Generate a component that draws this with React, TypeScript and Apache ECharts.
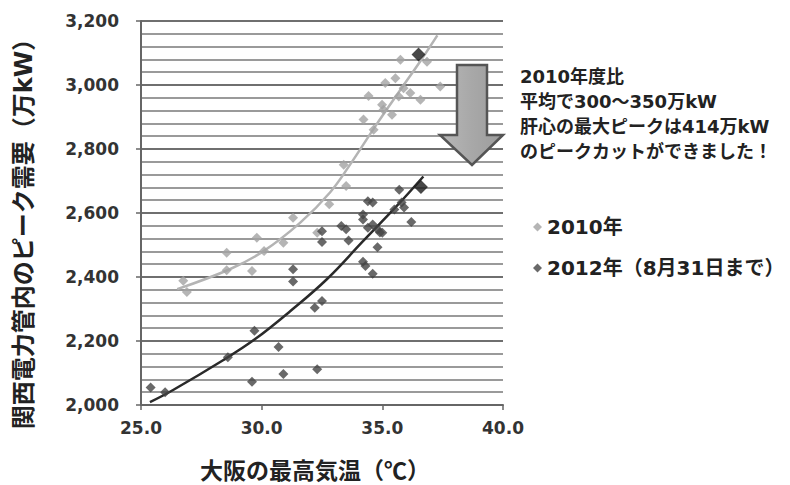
import { useEffect, useRef } from "react";
import * as echarts from "echarts";

// 2010 observations: [max temperature (°C), peak demand (万kW)]
const points2010: number[][] = [
  [26.75, 2388], [26.9, 2353], [28.55, 2476], [28.55, 2421], [29.6, 2419],
  [29.8, 2523], [30.1, 2481], [30.9, 2507], [31.3, 2585], [32.3, 2538],
  [32.8, 2627], [33.4, 2751], [33.5, 2684], [34.22, 2892], [34.64, 2860],
  [34.43, 2966], [34.99, 2938], [35.05, 2923], [35.12, 3006], [35.4, 2907],
  [35.54, 3021], [35.68, 2964], [35.75, 3079], [35.88, 2990], [36.16, 2975],
  [36.58, 2954], [36.85, 3073], [37.4, 2995],
];
// 2012 observations (until Aug 31)
const points2012: number[][] = [
  [25.4, 2055], [26.0, 2040], [28.6, 2149], [29.6, 2073], [29.7, 2232],
  [30.7, 2181], [30.9, 2097], [31.3, 2424], [31.3, 2386], [32.2, 2304],
  [32.3, 2112], [32.5, 2325], [32.5, 2543], [32.5, 2509], [33.3, 2559],
  [33.5, 2549], [33.6, 2514], [34.2, 2595], [34.2, 2580], [34.2, 2448],
  [34.3, 2434], [34.4, 2637], [34.4, 2554], [34.6, 2633], [34.6, 2564],
  [34.6, 2410], [34.8, 2549], [34.8, 2493], [34.9, 2539], [35.0, 2538],
  [35.5, 2611], [35.7, 2673], [35.8, 2633], [35.9, 2617], [36.2, 2572],
];
// Annual maxima (highlighted)
const peak2010: number[][] = [[36.5, 3095]];
const peak2012: number[][] = [[36.6, 2681]];
// Trend curves
const trend2010: number[][] = [
  [26.5, 2362], [28.7, 2425], [30.06, 2480], [31.6, 2570], [32.84, 2665],
  [33.67, 2752], [34.7, 2870], [35.75, 2985], [36.58, 3075], [37.28, 3155],
];
const trend2012: number[][] = [
  [25.37, 2009], [26.33, 2047], [28.4, 2140], [29.73, 2206], [31.18, 2293],
  [32.7, 2393], [34.2, 2512], [35.6, 2622], [36.7, 2714],
];
const seriesNames = ["2010年", "2012年（8月31日まで）"];
const annotationLines = [
  "2010年度比",
  "平均で300〜350万kW",
  "肝心の最大ピークは414万kW",
  "のピークカットができました！",
];
const xTitle = "大阪の最高気温（℃）";
const yTitle = "関西電力管内のピーク需要（万kW）";

const FONT = "'DejaVu Sans', 'Noto Sans CJK JP', sans-serif";
const CJK_FONT = "'Noto Sans CJK JP', 'DejaVu Sans', sans-serif";

export default function App() {
  const ref = useRef<HTMLDivElement>(null);
  useEffect(() => {
    document.body.style.margin = "0";
    if (!ref.current) return;
    const chart = echarts.init(ref.current, null, { renderer: "svg" });
    chart.setOption({
      animation: false,
      backgroundColor: "#ffffff",
      grid: { left: 141, top: 21, width: 362, height: 385, containLabel: false },
      xAxis: {
        type: "value",
        min: 25,
        max: 40,
        interval: 5,
        name: xTitle,
        nameLocation: "middle",
        nameGap: 52,
        nameTextStyle: { fontFamily: CJK_FONT, fontSize: 23, fontWeight: "bold", color: "#222", padding: [0, 14, 0, 0] },
        axisLine: { show: true, lineStyle: { color: "#666", width: 2 } },
        axisTick: { show: true, length: 5, lineStyle: { color: "#666", width: 1.5 } },
        axisLabel: {
          fontFamily: FONT, fontSize: 17, fontWeight: "bold", color: "#333", margin: 14,
          formatter: (v: number) => v.toFixed(1),
        },
        splitLine: { show: false },
      },
      yAxis: {
        type: "value",
        min: 2000,
        max: 3200,
        interval: 200,
        axisLine: { show: true, lineStyle: { color: "#666", width: 2 } },
        axisTick: { show: true, length: 5, lineStyle: { color: "#666", width: 1.5 } },
        axisLabel: {
          fontFamily: FONT, fontSize: 17, fontWeight: "bold", color: "#333", margin: 22,
          formatter: (v: number) => v.toLocaleString("en-US"),
        },
        splitLine: { show: true, lineStyle: { color: "#6f6f6f", width: 2 } },
        minorTick: { show: false, splitNumber: 5 },
        minorSplitLine: { show: true, lineStyle: { color: "#9a9a9a", width: 2 } },
      },
      legend: {
        data: [
          { name: seriesNames[0], icon: "diamond", itemStyle: { color: "#a3a3a3" } },
          { name: seriesNames[1], icon: "diamond", itemStyle: { color: "#444" } },
        ],
        orient: "vertical",
        left: 533,
        top: 217,
        padding: 0,
        itemWidth: 9,
        itemHeight: 9,
        itemGap: 21,
        textStyle: { fontFamily: FONT, fontSize: 20, fontWeight: "bold", color: "#222" },
      },
      series: [
        {
          name: "2010年近似",
          type: "line",
          data: trend2010,
          smooth: 0.4,
          showSymbol: false,
          lineStyle: { color: "#b4b4b4", width: 2.5 },
          z: 3,
        },
        {
          name: "2012年近似",
          type: "line",
          data: trend2012,
          smooth: 0.4,
          showSymbol: false,
          lineStyle: { color: "#2a2a2a", width: 2.5 },
          z: 3,
        },
        {
          name: seriesNames[0],
          type: "scatter",
          data: points2010,
          symbol: "diamond",
          symbolSize: 10,
          itemStyle: { color: "#a3a3a3" },
          z: 4,
        },
        {
          name: seriesNames[1],
          type: "scatter",
          data: points2012,
          symbol: "diamond",
          symbolSize: 10,
          itemStyle: { color: "#444" },
          z: 4,
        },
        {
          name: "2010年最大",
          type: "scatter",
          data: peak2010,
          symbol: "diamond",
          symbolSize: 14,
          itemStyle: { color: "#1a1a1a" },
          z: 5,
        },
        {
          name: "2012年最大",
          type: "scatter",
          data: peak2012,
          symbol: "diamond",
          symbolSize: 14,
          itemStyle: { color: "#1a1a1a" },
          z: 5,
        },
      ],
      graphic: [
        {
          type: "polygon",
          z: 10,
          shape: {
            points: [
              [457, 65], [487, 65], [487, 135], [503, 135],
              [472, 165], [440, 135], [457, 135],
            ],
          },
          style: {
            fill: new echarts.graphic.LinearGradient(0, 0, 1, 0, [
              { offset: 0, color: "#b8b8b8" },
              { offset: 0.5, color: "#a8a8a8" },
              { offset: 1, color: "#9c9c9c" },
            ]),
            stroke: "#555",
            lineWidth: 2.5,
          },
        },
        {
          type: "text",
          z: 10,
          left: 520,
          top: 64,
          style: {
            text: annotationLines.join("\n"),
            fontFamily: FONT,
            fontSize: 18,
            fontWeight: "bold",
            lineHeight: 25,
            fill: "#222",
          },
        },
        {
          type: "text",
          z: 10,
          x: 24,
          y: 228,
          rotation: Math.PI / 2,
          style: {
            text: yTitle,
            fontFamily: FONT,
            fontSize: 24,
            fontWeight: "bold",
            fill: "#222",
            align: "center",
            verticalAlign: "middle",
            textAlign: "center",
            textVerticalAlign: "middle",
          },
        },
      ],
    });
    return () => chart.dispose();
  }, []);
  return <div ref={ref} style={{ width: 790, height: 485 }} />;
}
